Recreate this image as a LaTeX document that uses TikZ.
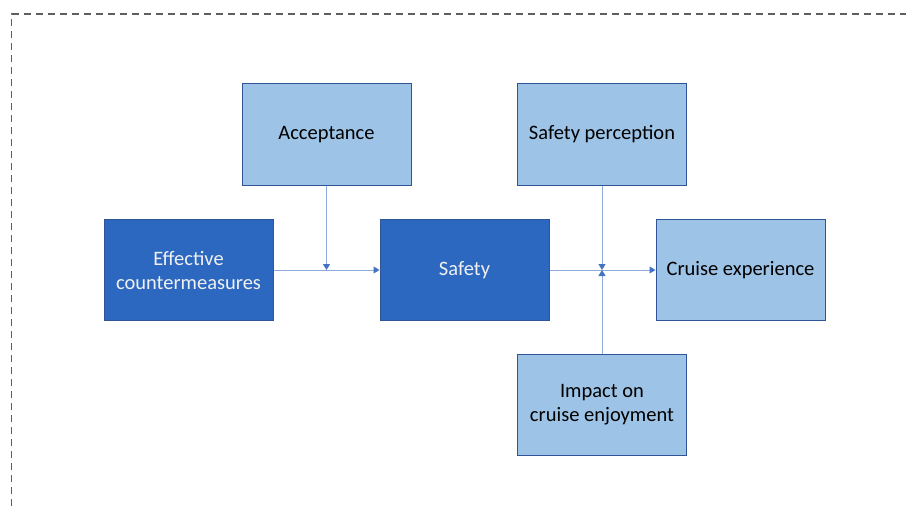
\documentclass[tikz,border=0pt]{standalone}
\usepackage{fontspec}
\setmainfont{Carlito}
\usetikzlibrary{arrows.meta}
\definecolor{lightfill}{HTML}{9DC3E6}
\definecolor{darkfill}{HTML}{2C68C0}
\definecolor{boxedge}{HTML}{2F5597}
\definecolor{linkline}{HTML}{8FAADC}
\definecolor{tipblue}{HTML}{4472C4}
\definecolor{frameline}{HTML}{5E5E5E}
\tikzset{
  box/.style={draw=boxedge, line width=1pt, minimum width=169pt, minimum height=101pt,
    align=center, inner sep=0pt, font=\fontsize{20.5}{24}\selectfont},
  lightbox/.style={box, fill=lightfill, text=black},
  darkbox/.style={box, fill=darkfill, text=white!94!black},
  link/.style={draw=linkline, line width=1pt,
    -{Triangle[length=6pt,width=7pt,color=tipblue]}},
  frame/.style={draw=frameline, line width=1.2pt, dash pattern=on 7pt off 5pt}
}
\begin{document}
\begin{tikzpicture}[x=1pt,y=-1pt]
  \useasboundingbox (0,0) rectangle (906,511);
  \clip (0,0) rectangle (906,511);
  \draw[frame] (11.5,530) -- (11.5,14) -- (930,14);

  \node[lightbox] (acc) at (326.5,134.5) {Acceptance};
  \node[lightbox] (perc) at (602,134.5) {Safety perception};
  \node[darkbox] (eff) at (188.5,270) {Effective\\countermeasures};
  \node[darkbox] (saf) at (464.5,270) {Safety};
  \node[lightbox] (cru) at (740.5,270) {Cruise experience};
  \node[lightbox] (imp) at (602,405) {Impact on\\cruise enjoyment};

  \coordinate (j1) at (acc.south |- eff.east);
  \coordinate (j2) at (perc.south |- saf.east);

  \draw[link] (eff.east) -- (saf.west);
  \draw[link] (acc.south) -- (j1);
  \draw[link] (saf.east) -- (cru.west);
  \draw[link] (perc.south) -- (j2);
  \draw[link] (imp.north) -- (j2);
\end{tikzpicture}
\end{document}
